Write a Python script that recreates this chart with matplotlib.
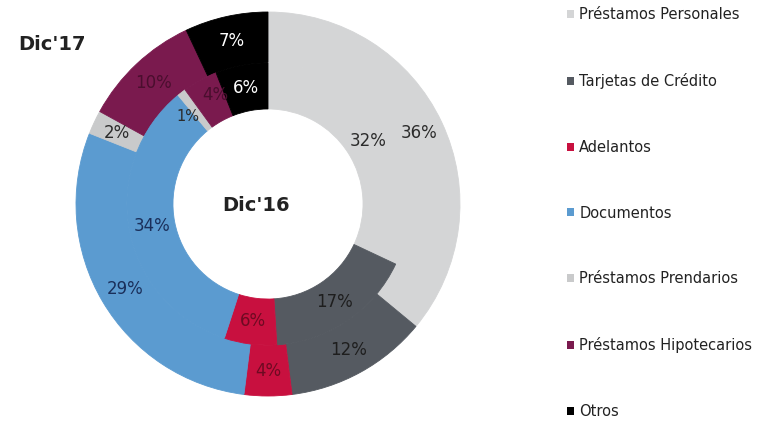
import matplotlib.pyplot as plt
from matplotlib.patches import Patch

# data
categorias = ["Préstamos Personales", "Tarjetas de Crédito", "Adelantos", "Documentos",
              "Préstamos Prendarios", "Préstamos Hipotecarios", "Otros"]
dic17 = [36, 12, 4, 29, 2, 10, 7]
dic16 = [32, 17, 6, 34, 1, 4, 6]
colores = ["#D4D5D6", "#555A61", "#C8103F", "#5B9BD0", "#C9CACB", "#7A1A4E", "#000000"]
colores_texto = ["#2B2B2B", "#1E1E1E", "#6E0A22", "#1A2F5A", "#2B2B2B", "#4A0E2E", "#FFFFFF"]

fig = plt.figure(figsize=(7.8, 4.22), dpi=100)
W, H = 780, 422
cx, cy, R = 268, 204, 192
ax = fig.add_axes([(cx - R) / W, (H - cy - R) / H, 2 * R / W, 2 * R / H])

r_out_w = 0.265
r_in = 1 - r_out_w
r_in_w = r_in - 0.495

w_out, t_out, a_out = ax.pie(dic17, colors=colores, radius=1, startangle=90, counterclock=False,
                             wedgeprops=dict(width=r_out_w, linewidth=0.6),
                             autopct="%.0f%%", pctdistance=1 - r_out_w / 2)
w_in, t_in, a_in = ax.pie(dic16, colors=colores, radius=r_in, startangle=90, counterclock=False,
                          wedgeprops=dict(width=r_in_w, linewidth=0.6),
                          autopct="%.0f%%", pctdistance=(r_in - r_in_w / 2) / r_in)
for wedges in (w_out, w_in):
    for w, c in zip(wedges, colores):
        w.set_edgecolor(c)
for txts in (a_out, a_in):
    for t, c in zip(txts, colores_texto):
        t.set_color(c)
        t.set_fontsize(12)
# small inner slices: spread the two crowded labels a little
a_in[4].set_fontsize(10.5)
x, y = a_in[4].get_position()
a_in[4].set_position((x - 0.04, y - 0.03))
x, y = a_in[5].get_position()
a_in[5].set_position((x + 0.02, y + 0.03))

ax.set_xlim(-1, 1)
ax.set_ylim(-1, 1)
ax.set_aspect("equal")
ax.axis("off")

ax.text(-0.06, -0.01, "Dic'16", ha="center", va="center", fontsize=14, fontweight="bold", color="#222222")
fig.text(18 / W, 1 - 45 / H, "Dic'17", ha="left", va="center", fontsize=14, fontweight="bold", color="#222222")

handles = [Patch(facecolor=c, edgecolor="none") for c in colores]
fig.legend(handles, categorias, loc="upper left", bbox_to_anchor=(563 / W, 1 - 3 / H),
           frameon=False, fontsize=10.5, handlelength=0.47, handleheight=0.47, handletextpad=0.35,
           labelspacing=3.48, borderaxespad=0, borderpad=0.3, labelcolor="#222222")

fig.savefig("out.png", dpi=100)
